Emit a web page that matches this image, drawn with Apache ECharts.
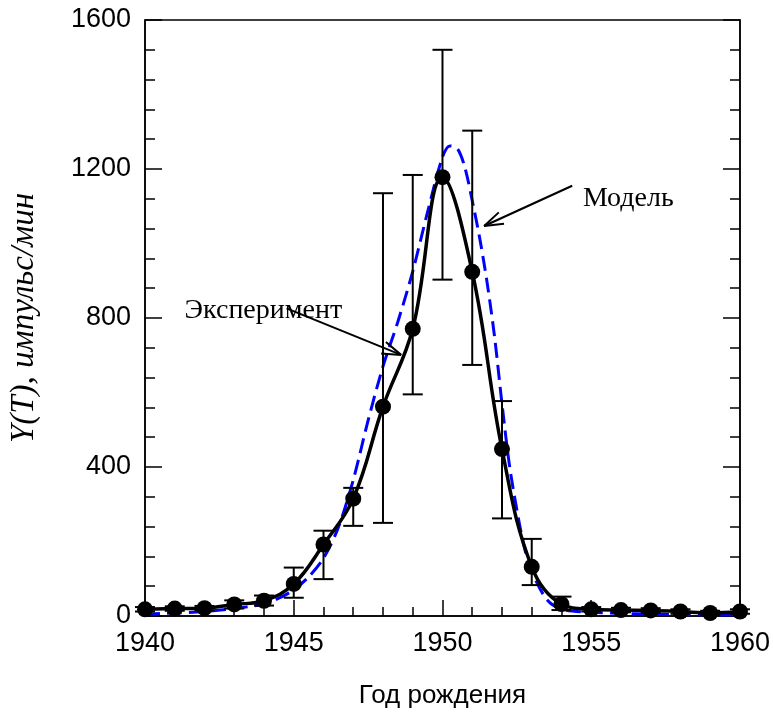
<!DOCTYPE html>
<html lang="ru" style="height: 100%">
<head>
    <meta charset="utf-8"/>
</head>
<body style="height: 100%; margin: 0; overflow: hidden; background: #fff">
<div id="container" style="width: 773px; height: 717px"></div>

<script type="text/javascript" src="https://cdn.jsdelivr.net/npm/echarts@6/dist/echarts.min.js"></script>

<script type="text/javascript">
    // годы рождения и измеренная активность
    var years = [1940, 1941, 1942, 1943, 1944, 1945, 1946, 1947, 1948, 1949, 1950,
        1951, 1952, 1953, 1954, 1955, 1956, 1957, 1958, 1959, 1960];
    var experiment = [18, 20, 21, 31, 41, 86, 192, 315, 562, 771, 1178,
        924, 448, 132, 32, 18, 16, 15, 12, 8, 12];
    var errLow = [12, 14, 15, 20, 28, 49, 99, 242, 250, 595, 903,
        674, 262, 83, 16, 12, 10, 9, 6, 3, 6];
    var errHigh = [24, 26, 27, 42, 55, 130, 229, 344, 1135, 1184, 1520,
        1303, 577, 207, 52, 24, 22, 21, 18, 14, 18];

    // модельная кривая
    var modelYears = [1940, 1941, 1942, 1943, 1944, 1944.5, 1945, 1945.5, 1946, 1946.5,
        1947, 1947.5, 1948, 1948.5, 1949, 1949.5, 1950, 1950.25, 1950.5, 1950.75,
        1951, 1951.25, 1951.5, 1951.75, 1952, 1952.25, 1952.5, 1952.75, 1953, 1953.5,
        1954, 1955, 1956, 1957, 1958, 1959, 1960];
    var modelValues = [5, 8, 12, 20, 32, 48, 70, 105, 155, 238,
        365, 525, 670, 790, 925, 1085, 1232, 1262, 1255, 1205,
        1115, 1015, 895, 750, 570, 405, 285, 185, 120, 45,
        18, 10, 7, 5, 4, 3, 3];

    var yTicks = [0, 400, 800, 1200, 1600];

    // подписи со стрелками: [текст x, текст y, начало x, начало y, острие x, острие y]
    var notes = [
        ["Эксперимент", 1941.33, 856, 1944.76, 826, 1948.61, 701],
        ["Модель", 1954.72, 1157, 1954.36, 1155, 1951.40, 1047]
    ];

    var dom = document.getElementById("container");
    var myChart = echarts.init(dom, null, {renderer: "canvas"});

    var sans = "Liberation Sans";
    var serif = "Liberation Serif";

    var axisCommon = {
        axisLine: {show: true, lineStyle: {color: "#000", width: 1.5}},
        splitLine: {show: false},
    };
    var plain = function (v) { return String(v); };

    var option = {
        animation: false,
        backgroundColor: "#fff",
        grid: {
            left: 143, right: 33, top: 20, bottom: 101,
            show: true, borderColor: "#000", borderWidth: 1.5,
        },
        xAxis: Object.assign({
            type: "value",
            min: years[0],
            max: years[years.length - 1],
            interval: 5,
            name: "Год рождения",
            nameLocation: "middle",
            nameGap: 67,
            nameTextStyle: {fontFamily: sans, fontSize: 26, color: "#000"},
            axisTick: {inside: true, length: 16, lineStyle: {color: "#000", width: 1.5}},
            minorTick: {show: true, splitNumber: 5, length: 9, lineStyle: {color: "#000", width: 1.5}},
            axisLabel: {fontFamily: sans, fontSize: 27, color: "#000", margin: 14, formatter: plain},
        }, axisCommon),
        yAxis: [
            Object.assign({
                type: "value",
                min: yTicks[0],
                max: yTicks[yTicks.length - 1],
                interval: 400,
                name: "Y(T), импульс/мин",
                nameLocation: "middle",
                nameGap: 104,
                nameTextStyle: {fontFamily: serif, fontStyle: "italic", fontSize: 33, color: "#000"},
                axisTick: {inside: true, length: 17, lineStyle: {color: "#000", width: 1.5}},
                minorTick: {show: true, splitNumber: 5, length: 10, lineStyle: {color: "#000", width: 1.5}},
                axisLabel: {fontFamily: sans, fontSize: 27, color: "#000", margin: 14, formatter: plain},
            }, axisCommon),
            Object.assign({
                type: "value",
                position: "right",
                min: yTicks[0],
                max: yTicks[yTicks.length - 1],
                interval: 400,
                axisTick: {inside: true, length: 17, lineStyle: {color: "#000", width: 1.5}},
                minorTick: {show: true, splitNumber: 5, length: 10, lineStyle: {color: "#000", width: 1.5}},
                axisLabel: {show: false},
            }, axisCommon),
        ],
        series: [
            {
                name: "Модель",
                type: "line",
                data: modelYears.map(function (t, i) { return [t, modelValues[i]]; }),
                smooth: 0.3,
                symbol: "none",
                lineStyle: {color: "#0000ff", width: 3, type: [15, 7]},
                z: 2,
            },
            {
                name: "errors",
                type: "custom",
                data: years.map(function (t, i) { return [t, errLow[i], errHigh[i]]; }),
                renderItem: function (params, api) {
                    var lo = api.coord([api.value(0), api.value(1)]);
                    var hi = api.coord([api.value(0), api.value(2)]);
                    var w = 10;
                    var st = {stroke: "#000", lineWidth: 2};
                    return {
                        type: "group",
                        children: [
                            {type: "line", shape: {x1: hi[0], y1: hi[1], x2: lo[0], y2: lo[1]}, style: st},
                            {type: "line", shape: {x1: hi[0] - w, y1: hi[1], x2: hi[0] + w, y2: hi[1]}, style: st},
                            {type: "line", shape: {x1: lo[0] - w, y1: lo[1], x2: lo[0] + w, y2: lo[1]}, style: st},
                        ],
                    };
                },
                z: 3,
            },
            {
                name: "Эксперимент",
                type: "line",
                data: years.map(function (t, i) { return [t, experiment[i]]; }),
                smooth: 0.4,
                symbol: "circle",
                symbolSize: 16,
                itemStyle: {color: "#000"},
                lineStyle: {color: "#000", width: 3.5},
                z: 4,
            },
            {
                name: "notes",
                type: "custom",
                data: notes.map(function (n) { return n.slice(1); }),
                renderItem: function (params, api) {
                    var n = notes[params.dataIndex];
                    var txt = api.coord([n[1], n[2]]);
                    var a = api.coord([n[3], n[4]]);
                    var b = api.coord([n[5], n[6]]);
                    var ang = Math.atan2(b[1] - a[1], b[0] - a[0]);
                    var L = 20, da = 0.32;
                    var st = {stroke: "#000", lineWidth: 2};
                    return {
                        type: "group",
                        children: [
                            {type: "line", shape: {x1: a[0], y1: a[1], x2: b[0], y2: b[1]}, style: st},
                            {type: "line", shape: {x1: b[0], y1: b[1],
                                x2: b[0] - L * Math.cos(ang - da), y2: b[1] - L * Math.sin(ang - da)}, style: st},
                            {type: "line", shape: {x1: b[0], y1: b[1],
                                x2: b[0] - L * Math.cos(ang + da), y2: b[1] - L * Math.sin(ang + da)}, style: st},
                            {type: "text", x: txt[0], y: txt[1], style: {
                                text: n[0], fill: "#000", font: "28px " + serif,
                                align: "left", verticalAlign: "alphabetic"}},
                        ],
                    };
                },
                z: 5,
            },
        ],
    };

    myChart.setOption(option);
    window.addEventListener("resize", myChart.resize);
</script>
</body>
</html>
